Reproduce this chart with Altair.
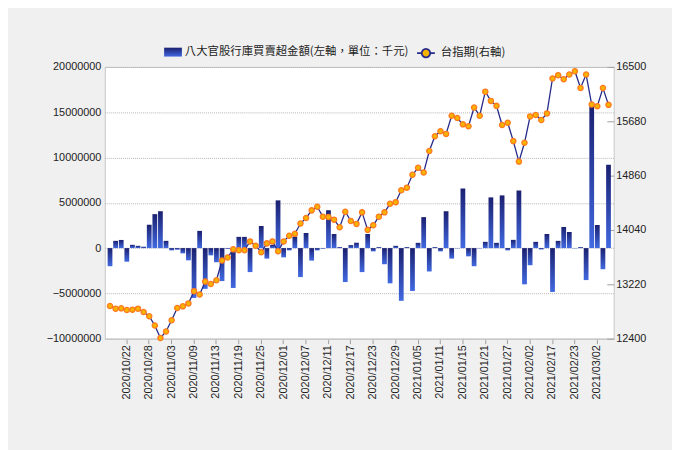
import altair as alt
import pandas as pd

dates = [
    "2020/10/19", "2020/10/20", "2020/10/21", "2020/10/22", "2020/10/23",
    "2020/10/26", "2020/10/27", "2020/10/28", "2020/10/29", "2020/10/30",
    "2020/11/02", "2020/11/03", "2020/11/04", "2020/11/05", "2020/11/06",
    "2020/11/09", "2020/11/10", "2020/11/11", "2020/11/12", "2020/11/13",
    "2020/11/16", "2020/11/17", "2020/11/18", "2020/11/19", "2020/11/20",
    "2020/11/23", "2020/11/24", "2020/11/25", "2020/11/26", "2020/11/27",
    "2020/11/30", "2020/12/01", "2020/12/02", "2020/12/03", "2020/12/04",
    "2020/12/07", "2020/12/08", "2020/12/09", "2020/12/10", "2020/12/11",
    "2020/12/14", "2020/12/15", "2020/12/16", "2020/12/17", "2020/12/18",
    "2020/12/21", "2020/12/22", "2020/12/23", "2020/12/24", "2020/12/25",
    "2020/12/28", "2020/12/29", "2020/12/30", "2020/12/31", "2021/01/04",
    "2021/01/05", "2021/01/06", "2021/01/07", "2021/01/08", "2021/01/11",
    "2021/01/12", "2021/01/13", "2021/01/14", "2021/01/15", "2021/01/18",
    "2021/01/19", "2021/01/20", "2021/01/21", "2021/01/22", "2021/01/25",
    "2021/01/26", "2021/01/27", "2021/01/28", "2021/01/29", "2021/02/01",
    "2021/02/02", "2021/02/03", "2021/02/04", "2021/02/05", "2021/02/17",
    "2021/02/18", "2021/02/19", "2021/02/22", "2021/02/23", "2021/02/24",
    "2021/02/25", "2021/02/26", "2021/03/02", "2021/03/03", "2021/03/04",
]

# net buy/sell of the eight state-owned banks (thousand NT$)
net_buy = [
    -2000000, 800000, 900000, -1500000, 360000, 250000, 150000, 2580000, 3750000, 4070000,
    800000, -250000, -180000, -580000, -1350000, -5500000, 1900000, -4500000, -800000, -1560000,
    -3640000, -80000, -4400000, 1240000, 1240000, -2650000, 30000, 2440000, -1160000, 360000,
    5270000, -1020000, -250000, 1270000, -3200000, 1670000, -1380000, -250000, -70000, 4180000,
    1560000, 110000, -3750000, 330000, 580000, -2650000, 1560000, -360000, 110000, -1780000,
    -3890000, 250000, -5820000, 110000, -4730000, 580000, 3420000, -2580000, 110000, -360000,
    4070000, -1160000, -40000, 6580000, -910000, -2000000, -40000, 690000, 5600000, 580000,
    5820000, -250000, 910000, 6360000, -4000000, -1890000, 690000, -150000, 1560000, -4840000,
    800000, 2330000, 1780000, -40000, 110000, -3530000, 15640000, 2550000, -2330000, 9200000,
]

# TAIEX futures close
futures = [
    12893, 12853, 12858, 12833, 12838, 12853, 12803, 12738, 12599, 12410,
    12509, 12679, 12863, 12888, 12932, 13117, 13067, 13261, 13226, 13281,
    13579, 13624, 13748, 13734, 13734, 13868, 13803, 13704, 13838, 13868,
    13719, 13868, 13953, 13982, 14137, 14221, 14336, 14390, 14241, 14236,
    14196, 14082, 14316, 14176, 14132, 14306, 14042, 14112, 14241, 14306,
    14435, 14460, 14639, 14679, 14873, 14978, 14908, 15231, 15455, 15530,
    15490, 15764, 15729, 15634, 15605, 15888, 15764, 16127, 15988, 15913,
    15624, 15659, 15381, 15072, 15356, 15754, 15774, 15699, 15799, 16326,
    16376, 16316, 16386, 16436, 16182, 16386, 15933, 15908, 16182, 15928,
]

label_dates = [
    "2020/10/22", "2020/10/28", "2020/11/03", "2020/11/09", "2020/11/13",
    "2020/11/19", "2020/11/25", "2020/12/01", "2020/12/07", "2020/12/11",
    "2020/12/17", "2020/12/23", "2020/12/29", "2021/01/05", "2021/01/11",
    "2021/01/15", "2021/01/21", "2021/01/27", "2021/02/02", "2021/02/17",
    "2021/02/23", "2021/03/02",
]

left_ticks = [-10000000, -5000000, 0, 5000000, 10000000, 15000000, 20000000]
right_ticks = [12400, 13220, 14040, 14860, 15680, 16500]

bar_name = "八大官股行庫買賣超金額(左軸，單位：千元)"
line_name = "台指期(右軸)"

df = pd.DataFrame({
    "date": dates,
    "net": net_buy,
    "fut": futures,
    "bname": bar_name,
    "lname": line_name,
})

TXT = "#222222"
FONT = "Liberation Sans"
CJK = "Noto Sans CJK TC"
NAVY = "#252a8a"
GOLD = "#f6b400"
ORANGE = "#ff7a1f"

xenc = alt.X(
    "date:N",
    sort=None,
    scale=alt.Scale(paddingInner=0.15, paddingOuter=0.5),
    axis=alt.Axis(
        values=label_dates, labelAngle=-90, title=None, grid=False,
        labelFont=FONT, labelFontSize=11, labelColor=TXT,
        tickSize=5, tickColor="#a0a0a0", domainColor="#c8c8c8",
        labelPadding=1,
    ),
)

grad = alt.Gradient(
    gradient="linear",
    stops=[alt.GradientStop(offset=0, color="#1b2070"),
           alt.GradientStop(offset=1, color="#4169e1")],
    x1=0, x2=0, y1=0, y2=1,
)

bars = alt.Chart(df).mark_bar(color=grad, strokeWidth=0).encode(
    x=xenc,
    y=alt.Y(
        "net:Q",
        scale=alt.Scale(domain=[-10000000, 20000000], nice=False, zero=True),
        axis=alt.Axis(
            values=left_ticks, format="d", title=None, orient="left",
            ticks=False, domain=False, grid=True, gridDash=[1, 1],
            gridColor="#b4b4b4", labelFont=FONT, labelFontSize=11,
            labelColor=TXT, labelPadding=4,
        ),
    ),
    stroke=alt.Stroke(
        "bname:N",
        scale=alt.Scale(domain=[bar_name], range=["#2a3a9e"]),
        legend=alt.Legend(
            orient="none", legendX=60, legendY=-24, title=None,
            symbolType="M-1,-0.5H1V0.5H-1Z", symbolSize=324,
            symbolStrokeWidth=0, labelFont=CJK, labelFontSize=11.5,
            labelColor=TXT, labelOffset=3, labelLimit=400,
        ),
    ),
)

yr = alt.Y(
    "fut:Q",
    scale=alt.Scale(domain=[12400, 16500], nice=False, zero=False),
    axis=alt.Axis(
        values=right_ticks, format="d", title=None, orient="right",
        grid=False, domain=False, ticks=True, tickSize=7, tickColor="#a0a0a0",
        offset=-7, labelPadding=2, labelFont=FONT, labelFontSize=11,
        labelColor=TXT,
    ),
)

line = alt.Chart(df).mark_line(strokeWidth=1.3, color=NAVY).encode(
    x=xenc,
    y=yr,
)

points = alt.Chart(df).mark_point(
    filled=True, stroke=ORANGE, strokeWidth=1.3, size=28, opacity=1,
).encode(
    x=xenc,
    y=yr,
    fill=alt.Fill(
        "lname:N",
        scale=alt.Scale(domain=[line_name], range=[GOLD]),
        legend=alt.Legend(
            orient="none", legendX=315, legendY=-24, title=None,
            symbolType=("M-1,0H-0.48M0.48,0H1"
                        "M-0.48,0A0.48,0.48 0 1,1 0.48,0A0.48,0.48 0 1,1 -0.48,0Z"),
            symbolSize=324, symbolStrokeWidth=1.8, symbolStrokeColor=NAVY,
            labelFont=CJK, labelFontSize=11.5, labelColor=TXT,
            labelOffset=5, labelLimit=200,
        ),
    ),
)

chart = alt.layer(
    bars, alt.layer(line, points)
).resolve_scale(
    y="independent", fill="independent", stroke="independent"
).properties(
    width=515, height=275,
    autosize=alt.AutoSizeParams(type="none"),
    padding={"left": 98, "top": 57, "right": 59, "bottom": 110},
    background="#f0f0f0",
).configure_view(
    fill="white", stroke="#c8c8c8", strokeWidth=1,
).configure_legend(
    padding=0,
)

chart.save("out.html", embed_options={"renderer": "svg", "actions": False})
